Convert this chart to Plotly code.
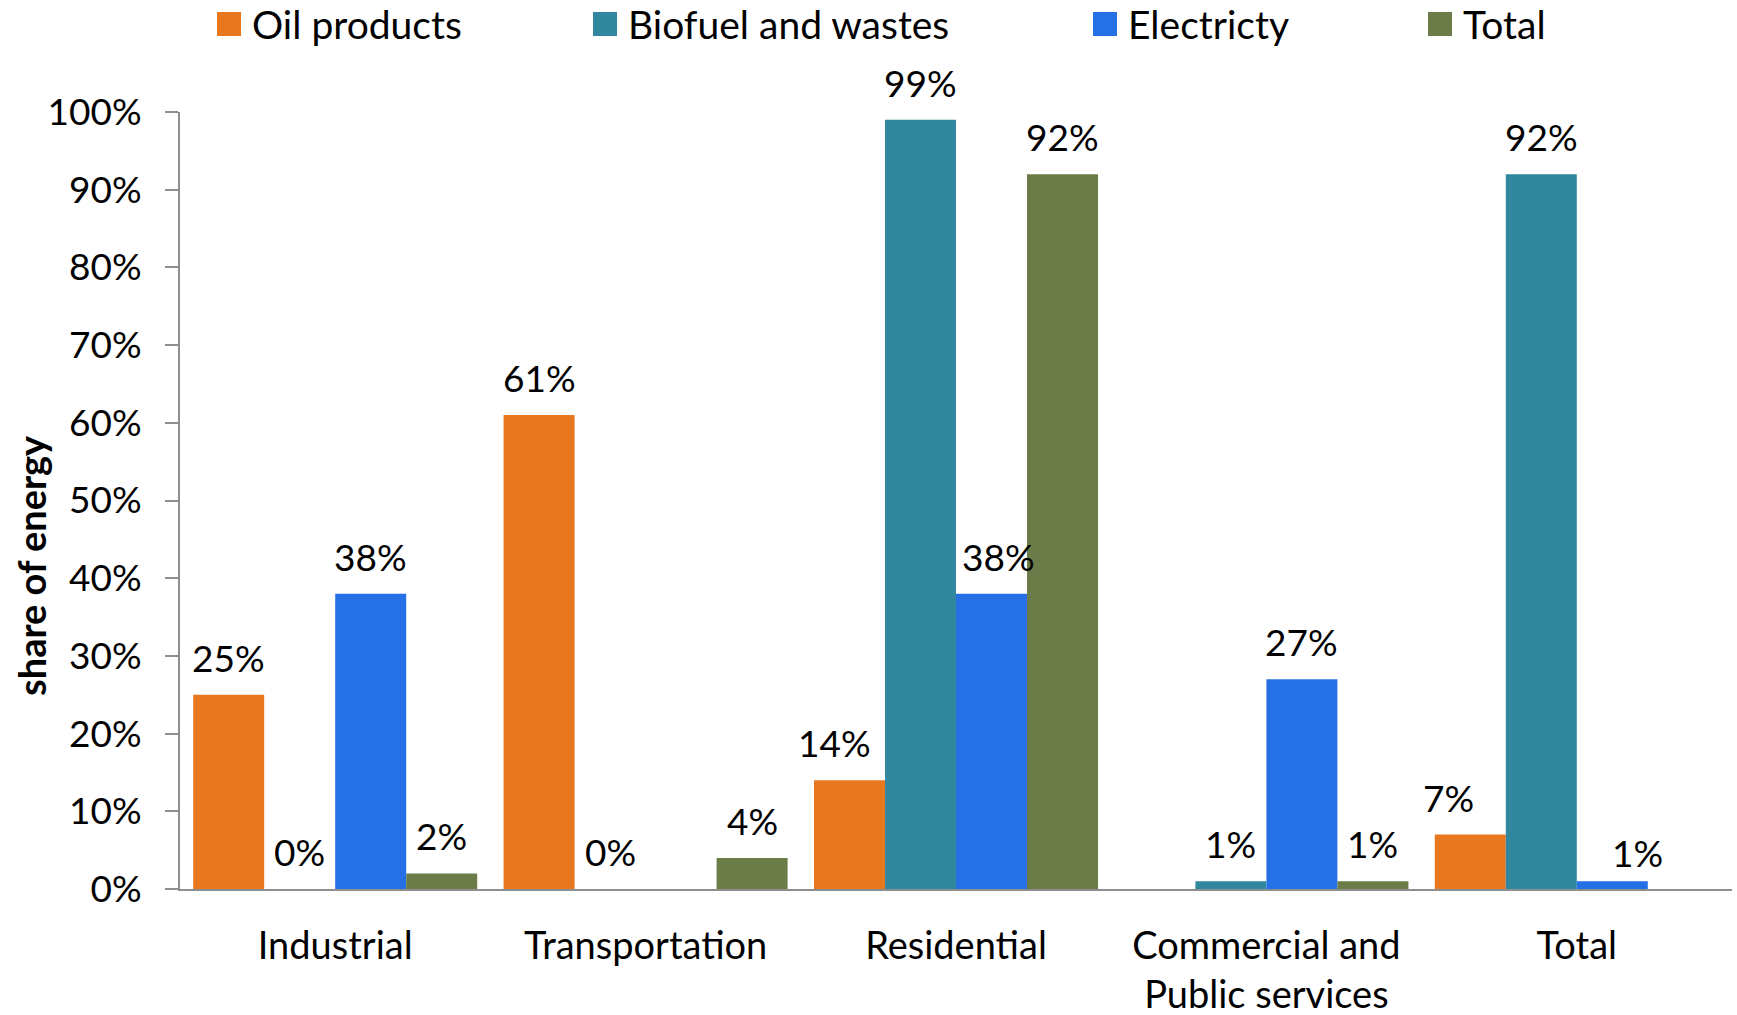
import plotly.graph_objects as go

# Energy shares by sector
categories = ["Industrial", "Transportation", "Residential",
              "Commercial and<br>Public services", "Total"]
series_names = ["Oil products", "Biofuel and wastes", "Electricty", "Total"]
oil_products = [25, 61, 14, None, 7]
biofuel_wastes = [0, 0, 99, 1, 92]
electricity = [38, None, 38, 27, 1]
total_share = [2, 4, 92, 1, None]
y_ticks = [0, 10, 20, 30, 40, 50, 60, 70, 80, 90, 100]
y_tick_labels = ["0%", "10%", "20%", "30%", "40%", "50%",
                 "60%", "70%", "80%", "90%", "100%"]

series_values = [oil_products, biofuel_wastes, electricity, total_share]
colors = ["#E8781F", "#31879D", "#2670E6", "#6B7C49"]

W, H = 1737, 1015
M_L, M_R, M_T, M_B = 180, 5, 112, 126
plot_w = W - M_L - M_R
plot_h = H - M_T - M_B

FONT = "Lato, 'Liberation Sans', Arial, sans-serif"
BAR_GAP = 0.085
n_series = len(series_values)
bar_w = (1 - BAR_GAP) / n_series

# (dx, dy) pixel nudges for labels that sit beside crowded bars
label_nudge = {(0, 2): (-15, 0), (2, 2): (7, 0),
               (0, 4): (-22, 0), (2, 4): (25, -9)}

fig = go.Figure()
for name, vals, col in zip(series_names, series_values, colors):
    fig.add_trace(go.Bar(
        x=categories, y=vals, name=name,
        marker=dict(color=col, line=dict(width=0)),
        showlegend=False, hoverinfo="x+y+name",
    ))

# value labels above each bar
annotations = []
for k, vals in enumerate(series_values):
    for i, v in enumerate(vals):
        if v is None:
            continue
        dx, dy = label_nudge.get((k, i), (0, 0))
        annotations.append(dict(
            x=i + (k - (n_series - 1) / 2) * bar_w, y=v,
            xref="x", yref="y", text=f"{v}%", showarrow=False,
            yanchor="bottom", xanchor="center", yshift=13 + dy,
            xshift=dx,
            font=dict(family=FONT, size=37, color="#000000"),
        ))

# y-axis title
annotations.append(dict(
    x=(31 - M_L) / plot_w, y=(H - M_B - 566) / plot_h,
    xref="paper", yref="paper", text="<b>share of energy</b>",
    textangle=-90, showarrow=False, xanchor="center", yanchor="middle",
    font=dict(family=FONT, size=38, color="#000000"),
))

# legend: colour squares with text
shapes = []
legend_x = [217, 593, 1093, 1428]
legend_y = 24
for name, col, px in zip(series_names, colors, legend_x):
    xp = (px - M_L) / plot_w
    yp = (H - M_B - legend_y) / plot_h
    shapes.append(dict(
        type="rect", xref="paper", yref="paper",
        xsizemode="pixel", ysizemode="pixel",
        xanchor=xp, yanchor=yp,
        x0=0, x1=24, y0=-12, y1=12,
        fillcolor=col, line=dict(width=0),
    ))
    annotations.append(dict(
        x=(px + 33 - M_L) / plot_w, y=yp, xref="paper", yref="paper",
        text=name, showarrow=False, xanchor="left", yanchor="middle",
        font=dict(family=FONT, size=39, color="#000000"),
    ))

fig.update_layout(
    width=W, height=H,
    margin=dict(l=M_L, r=M_R, t=M_T, b=M_B, autoexpand=False),
    paper_bgcolor="white", plot_bgcolor="white",
    barmode="group", bargap=BAR_GAP, bargroupgap=0,
    showlegend=False,
    annotations=annotations, shapes=shapes,
    font=dict(family=FONT, color="#000000"),
)
fig.update_xaxes(
    showgrid=False, showline=True, linecolor="#8E8E8E", linewidth=2,
    ticks="", ticklabelstandoff=22,
    tickfont=dict(family=FONT, size=38, color="#000000"),
    zeroline=False,
)
fig.update_yaxes(
    range=[0, 100], tickvals=y_ticks, ticktext=y_tick_labels,
    showgrid=False, showline=True, linecolor="#8E8E8E", linewidth=2,
    ticks="outside", ticklen=13, tickcolor="#8E8E8E", tickwidth=2,
    ticklabelstandoff=16,
    tickfont=dict(family=FONT, size=37, color="#000000"),
    zeroline=False,
)

fig.write_html("out.html")
